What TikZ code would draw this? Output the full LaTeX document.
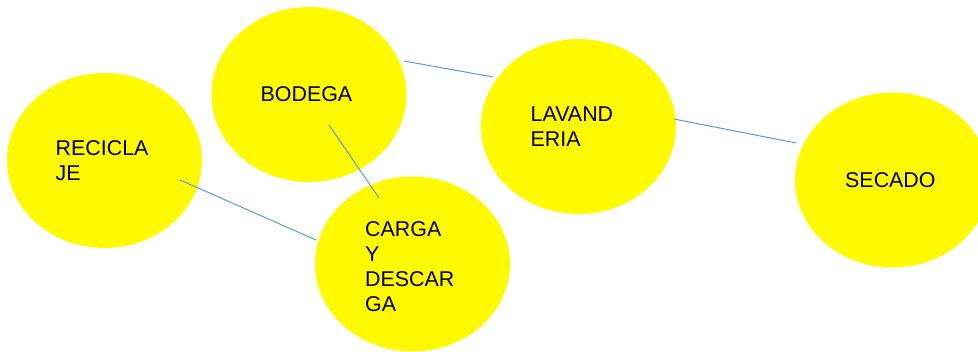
\documentclass[tikz,border=0pt]{standalone}
\usepackage{fontspec}
\setmainfont{Liberation Sans}
\usetikzlibrary{shapes.geometric}
\definecolor{blobyellow}{RGB}{255,250,0}
\definecolor{linkblue}{RGB}{91,155,213}
\begin{document}
\begin{tikzpicture}[x=1pt,y=-1pt,
  blob/.style={ellipse, fill=blobyellow, draw=none, inner sep=0pt,
    minimum width=195pt, minimum height=175pt},
  lbl/.style={anchor=base west, inner sep=0pt, align=left,
    font=\fontsize{21.4pt}{25pt}\selectfont},
  link/.style={draw=linkblue, line width=1pt}]
\useasboundingbox (0,0) rectangle (978,352);
\node[blob] (reci) at (104.5,160.5) {};
\node[blob] (bode) at (309,94.5) {};
\node[blob] (carg) at (412.5,264) {};
\node[blob] (lava) at (578.5,126.5) {};
\node[blob] (seca) at (892.5,180) {};
\node[lbl] (treci) at (55.5,180.5) {RECICLA\\JE};
\node[lbl] (tbode) at (260.5,101.5) {BODEGA};
\node[lbl] (tcarg) at (365,311.5) {CARGA\\Y\\DESCAR\\GA};
\node[lbl] (tlava) at (530.5,146.5) {LAVAND\\ERIA};
\node[lbl] (tseca) at (845,187.5) {SECADO};
\coordinate (r1) at (180,180);
\coordinate (c1) at (316,240);
\coordinate (b1) at (329,125);
\coordinate (c2) at (379,198);
\coordinate (b2) at (404,61);
\coordinate (l1) at (493,77);
\coordinate (l2) at (674,119);
\coordinate (s1) at (796,143);
\draw[link] (r1) -- (c1);
\draw[link] (b1) -- (c2);
\draw[link] (b2) -- (l1);
\draw[link] (l2) -- (s1);
\end{tikzpicture}
\end{document}
